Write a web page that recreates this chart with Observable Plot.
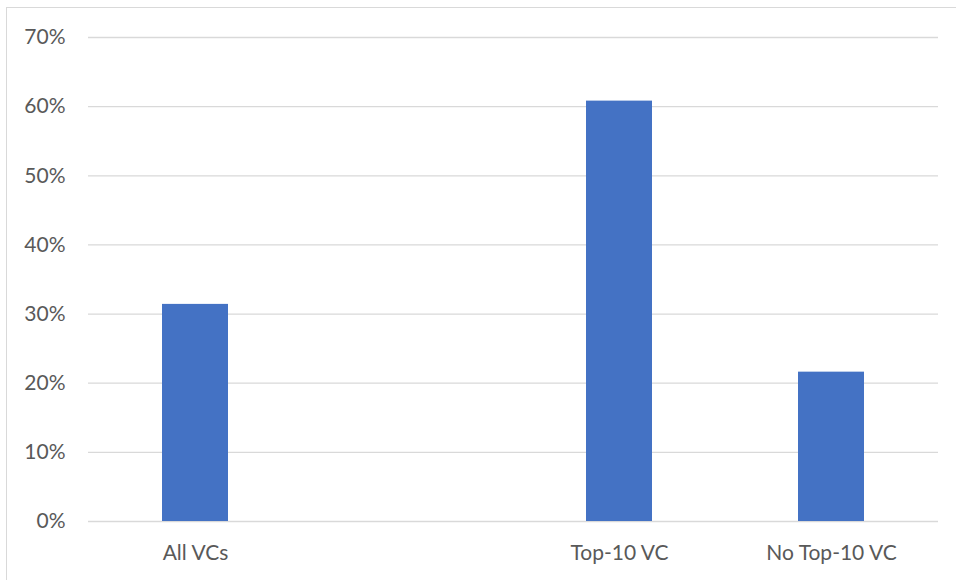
<!DOCTYPE html>
<html>
<head>
<meta charset="utf-8">
<script src="https://cdn.jsdelivr.net/npm/d3@7"></script>
<script src="https://cdn.jsdelivr.net/npm/@observablehq/plot@0.6"></script>
<style>
  html, body { margin: 0; padding: 0; background: #fff; }
  #wrap { position: relative; width: 956px; height: 580px; overflow: hidden; }
  #edge { position: absolute; left: 6px; top: 7px; right: -2px; bottom: -2px;
          border-left: 1px solid #d9d9d9; border-top: 1px solid #d9d9d9; pointer-events: none; }
  svg { display: block; }
</style>
</head>
<body>
<div id="wrap"><div id="edge"></div></div>
<script>
// Categories along the x axis (the second slot is an empty gap)
const categories = ["All VCs", "", "Top-10 VC", "No Top-10 VC"];
// Share of deals, in percent (null = no bar)
const shares = [31.4, null, 60.8, 21.6];
// Y axis ticks
const yTicks = [0, 10, 20, 30, 40, 50, 60, 70];

const rows = categories
  .map((c, i) => ({category: c, share: shares[i]}))
  .filter(d => d.share != null);

const chart = Plot.plot({
  width: 956,
  height: 580,
  marginLeft: 88,
  marginRight: 18,
  marginTop: 37,
  marginBottom: 59,
  style: {fontFamily: "Lato, 'Open Sans', sans-serif", fontSize: "21px", color: "#595959", background: "#fff"},
  x: {domain: categories, paddingInner: 0.687, paddingOuter: 0.3435, label: null},
  y: {domain: [0, 70], ticks: yTicks, label: null},
  marks: [
    Plot.gridY(yTicks, {stroke: "#d9d9d9", strokeOpacity: 1, strokeWidth: 1.3}),
    Plot.axisY(yTicks, {tickSize: 0, tickPadding: 23, tickFormat: d => d + "%", label: null, fill: "#595959"}),
    Plot.axisX({tickSize: 0, tickPadding: 24, label: null, fill: "#595959"}),
    Plot.barY(rows, {x: "category", y: "share", fill: "#4472C4"})
  ]
});
document.getElementById("wrap").prepend(chart);
</script>
</body>
</html>
